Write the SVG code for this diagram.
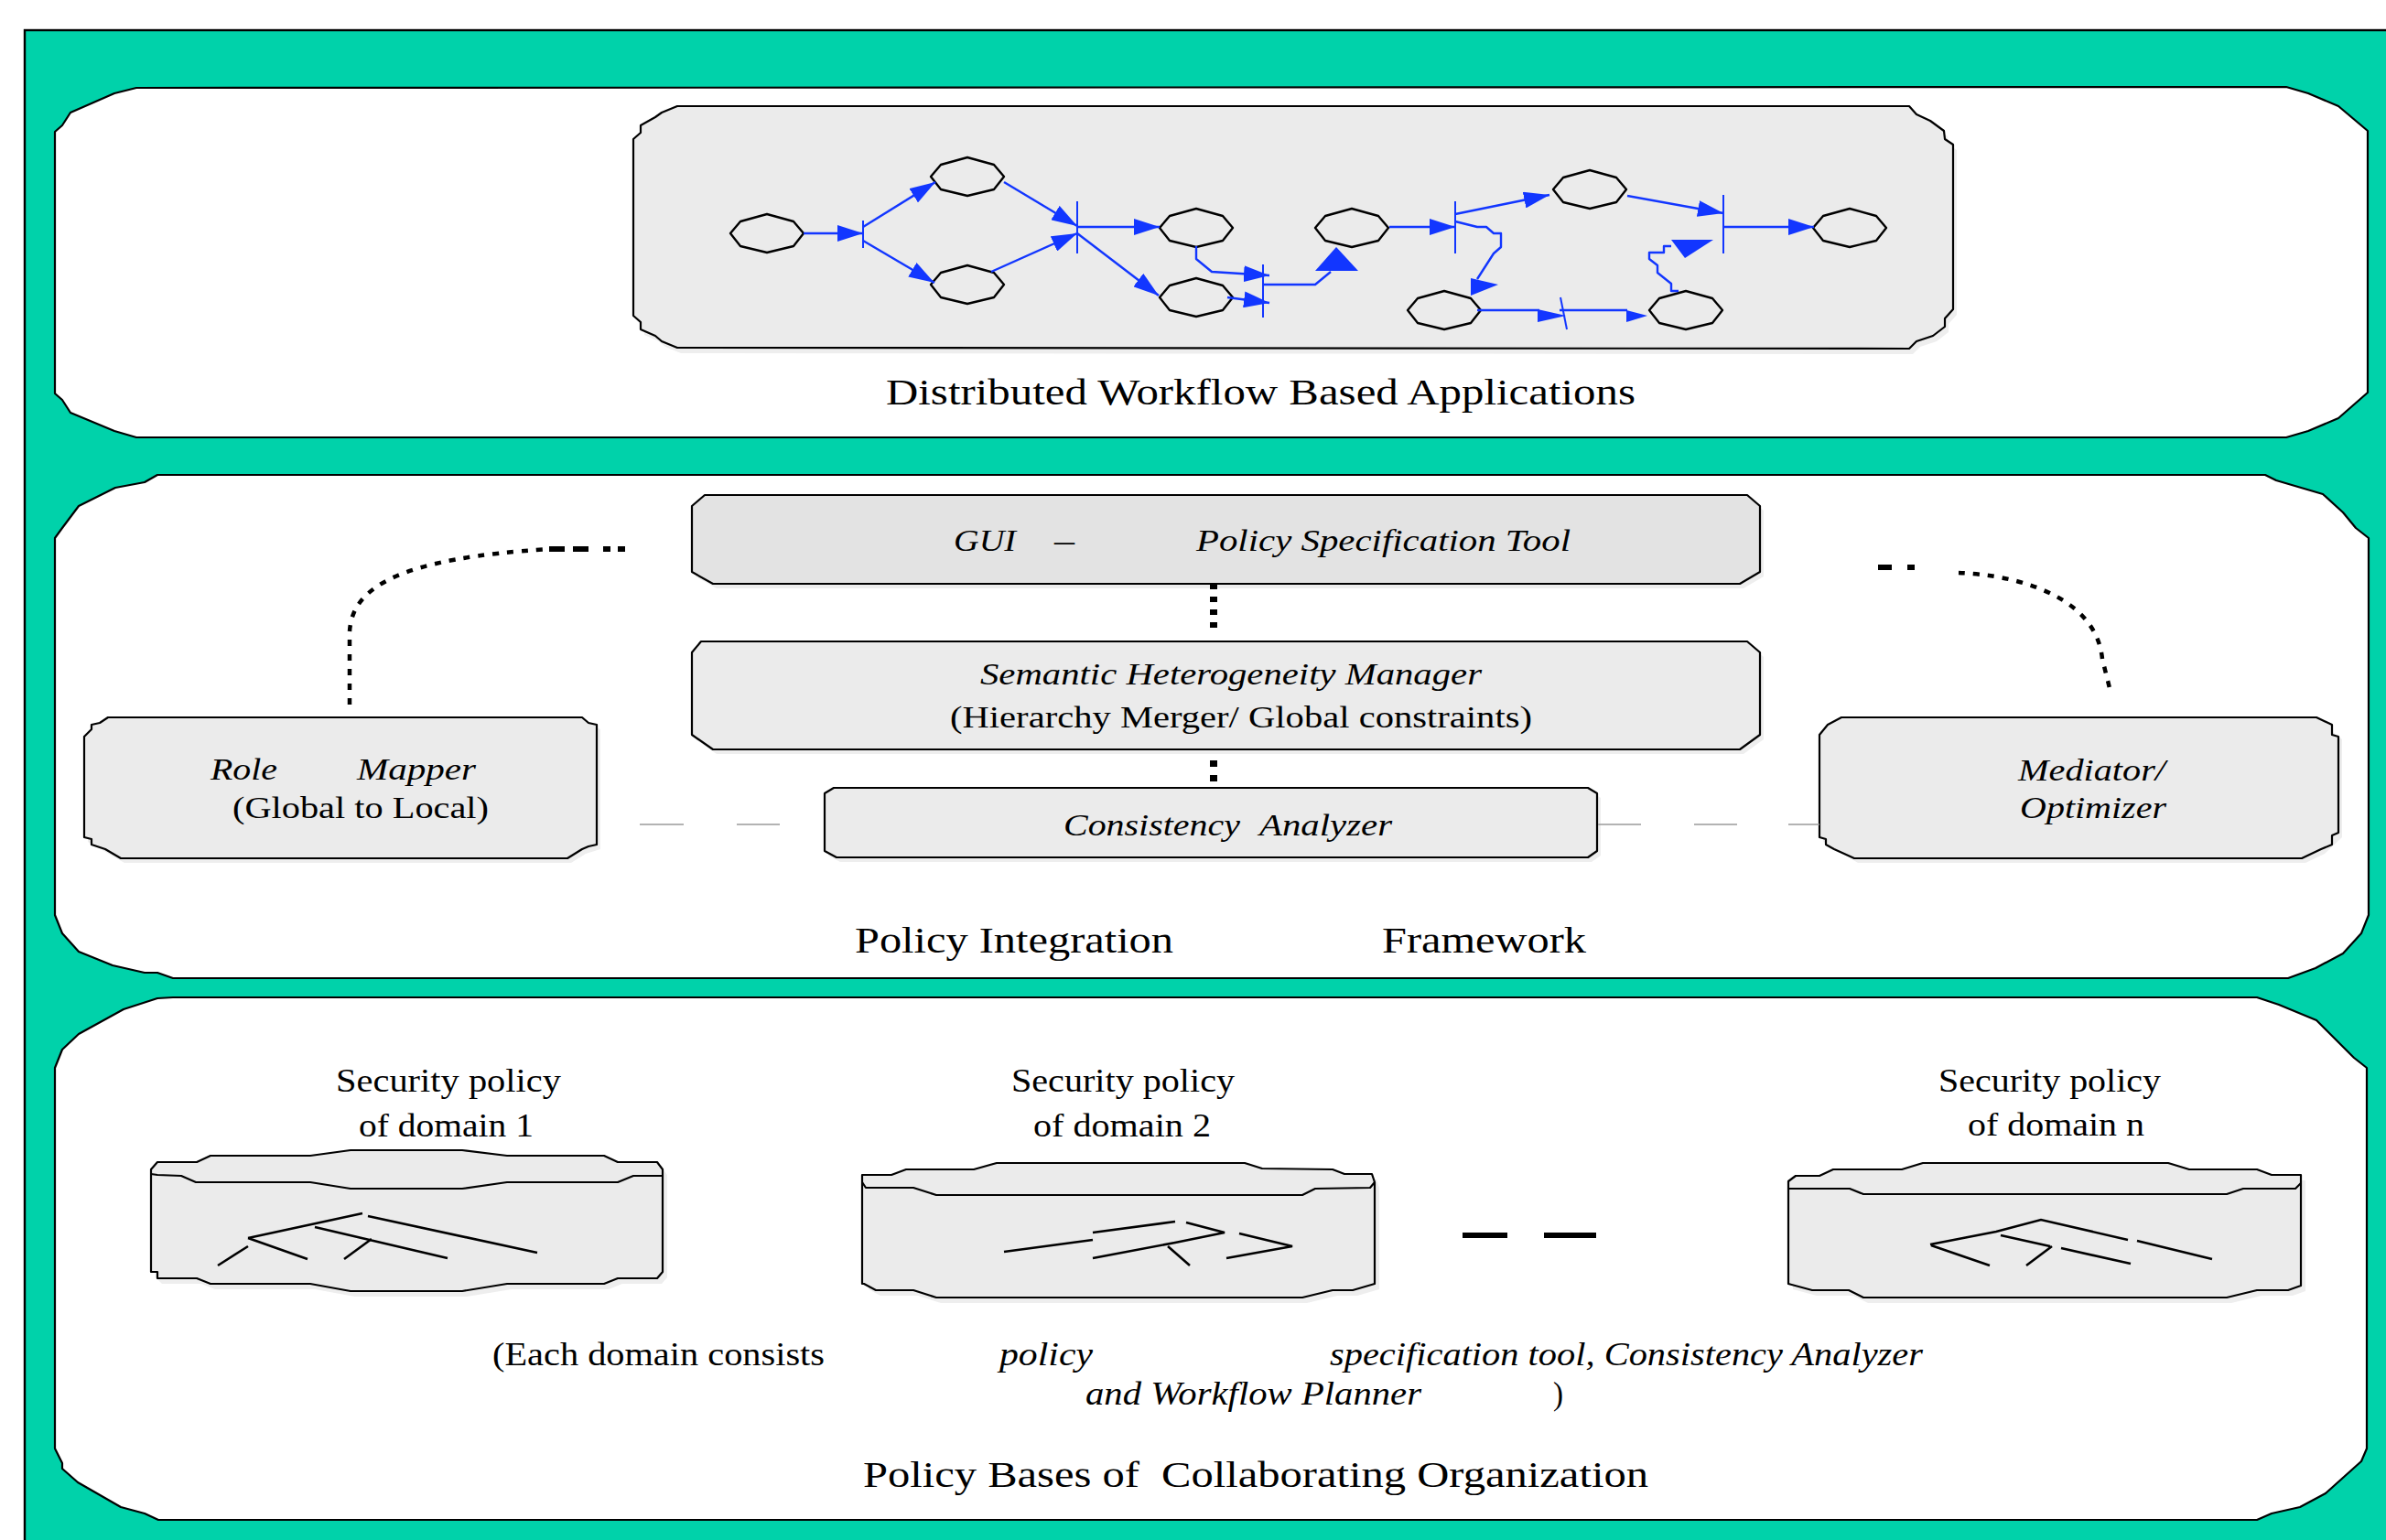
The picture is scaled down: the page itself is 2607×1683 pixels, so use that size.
<svg xmlns="http://www.w3.org/2000/svg" width="2607" height="1683" viewBox="0 0 2607 1683">
  <style>
    .panel { fill: #ffffff; stroke: #000; stroke-width: 2.2; stroke-linejoin: round; }
    .box { fill: #ebebeb; stroke: #000; stroke-width: 2.2; stroke-linejoin: round; }
    .box-dark { fill: #e3e3e3; stroke: #000; stroke-width: 2.2; stroke-linejoin: round; }
    .shadow { fill: #eeeeee; stroke: none; }
    .edge { fill: none; stroke: #000; stroke-width: 2.2; stroke-linejoin: round; }
    .t { font-family: "Liberation Serif", "Times New Roman", serif; fill: #000; }
    .it { font-style: italic; }
    .wf { fill: none; stroke: #1236ff; stroke-width: 2.4; stroke-linejoin: round; }
    .bar { fill: none; stroke: #1236ff; stroke-width: 2; }
    .head { fill: #1236ff; }
    .node { fill: none; stroke: #000; stroke-width: 2.4; stroke-linejoin: round; }
    .tree { fill: none; stroke: #000; stroke-width: 2.6; stroke-linecap: butt; }
    .link { fill: none; stroke: #000; }
    .gray { fill: none; stroke: #9a9a9a; stroke-width: 1.6; }
  </style>
  <defs>
    <marker id="arr" markerUnits="userSpaceOnUse" markerWidth="30" markerHeight="18" refX="28" refY="9" orient="auto">
      <path d="M0,0 L28,9 L0,18 z" fill="#1236ff"/>
    </marker>
    <polygon id="oct" points="-40,0 -29,-13 0,-21 29,-13 40,0 29,14 0,21 -29,14"/>
  </defs>

  <!-- background frame -->
  <rect x="27" y="33" width="2600" height="1700" fill="#00d2aa" stroke="#000" stroke-width="2.4"/>

  <!-- layer 1: applications -->
  <g id="layer-applications">
    <polygon class="panel" points="149,96 2498,95 2522,102 2555,116 2587,143 2587,429 2555,457 2522,471 2498,478 149,478 125,471 77,451 68,437 60,430 60,144 68,137 77,123 125,102"/>
    <text class="t" x="968" y="442" font-size="40" textLength="819" lengthAdjust="spacingAndGlyphs">Distributed Workflow Based Applications</text>
  </g>

  <!-- layer 2: integration framework -->
  <g id="layer-framework">
    <polygon class="panel" points="172,519 2475,519 2487,525 2538,540 2560,560 2574,577 2588,588 2588,1000 2580,1020 2560,1042 2530,1058 2500,1069 189,1069 172,1063 158,1063 123,1055 86,1040 68,1020 60,1000 60,588 68,577 86,553 126,533 158,527"/>
    <text class="t" y="1041" font-size="40"><tspan x="934" textLength="348" lengthAdjust="spacingAndGlyphs">Policy Integration</tspan><tspan x="1510" textLength="223" lengthAdjust="spacingAndGlyphs">Framework</tspan></text>
  </g>

  <!-- layer 3: policy bases -->
  <g id="layer-policy-bases">
    <polygon class="panel" points="189,1090 2466,1090 2490,1098 2531,1115 2572,1156 2586,1167 2586,1583 2580,1597 2541,1632 2513,1647 2482,1654 2466,1661 173,1661 158,1654 132,1647 85,1620 68,1605 68,1599 60,1583 60,1167 68,1147 86,1130 135,1103 172,1091"/>
    <text class="t" y="1625" font-size="40"><tspan x="943" textLength="302" lengthAdjust="spacingAndGlyphs">Policy Bases of</tspan><tspan x="1269" textLength="532" lengthAdjust="spacingAndGlyphs">Collaborating Organization</tspan></text>
    <text class="t" y="1492" font-size="35"><tspan x="538" textLength="363" lengthAdjust="spacingAndGlyphs">(Each domain consists</tspan><tspan class="it" x="1092" textLength="102" lengthAdjust="spacingAndGlyphs">policy</tspan><tspan class="it" x="1453" textLength="648" lengthAdjust="spacingAndGlyphs">specification tool, Consistency Analyzer</tspan></text>
    <text class="t" y="1535" font-size="35"><tspan class="it" x="1186" textLength="367" lengthAdjust="spacingAndGlyphs">and Workflow Planner</tspan><tspan x="1697" textLength="11" lengthAdjust="spacingAndGlyphs">)</tspan></text>
  </g>

  <!-- workflow canvas -->
  <g id="workflow">
    <polygon class="shadow" points="744,122 2090,122 2098,131 2113,138 2128,149 2129,158 2138,164 2138,344 2129,354 2129,363 2116,373 2098,379 2090,387 744,386 727,379 720,373 704,366 704,358 696,351 696,158"/>
    <polygon class="box" points="740,116 2086,116 2094,125 2109,132 2124,143 2125,152 2134,158 2134,338 2125,348 2125,357 2112,367 2094,373 2086,381 740,380 723,373 716,367 700,360 700,352 692,345 692,152 700,145 700,137 716,128 723,123"/>
  </g>

  <!-- workflow places -->
  <g id="place-a"><use href="#oct" class="node" x="838" y="255"/></g>
  <g id="place-b"><use href="#oct" class="node" x="1057" y="193"/></g>
  <g id="place-c"><use href="#oct" class="node" x="1057" y="311"/></g>
  <g id="place-d"><use href="#oct" class="node" x="1307" y="249"/></g>
  <g id="place-e"><use href="#oct" class="node" x="1307" y="325"/></g>
  <g id="place-f"><use href="#oct" class="node" x="1477" y="249"/></g>
  <g id="place-g"><use href="#oct" class="node" x="1737" y="207"/></g>
  <g id="place-h"><use href="#oct" class="node" x="2021" y="249"/></g>
  <g id="place-i"><use href="#oct" class="node" x="1578" y="339"/></g>
  <g id="place-j"><use href="#oct" class="node" x="1842" y="339"/></g>

  <!-- workflow arcs and transitions -->
  <g id="workflow-arcs">
    <line class="bar" x1="943" y1="241" x2="943" y2="271"/>
    <line class="bar" x1="1177" y1="220" x2="1177" y2="277"/>
    <line class="bar" x1="1380" y1="289" x2="1380" y2="347"/>
    <line class="bar" x1="1590" y1="220" x2="1590" y2="277"/>
    <line class="bar" x1="1883" y1="213" x2="1883" y2="277"/>
    <line class="bar" x1="1705" y1="325" x2="1712" y2="360"/>

    <line class="wf" x1="878" y1="255" x2="943" y2="255" marker-end="url(#arr)"/>
    <line class="wf" x1="943" y1="248" x2="1022" y2="199" marker-end="url(#arr)"/>
    <line class="wf" x1="943" y1="263" x2="1021" y2="309" marker-end="url(#arr)"/>
    <line class="wf" x1="1097" y1="199" x2="1177" y2="247" marker-end="url(#arr)"/>
    <line class="wf" x1="1083" y1="297" x2="1177" y2="255" marker-end="url(#arr)"/>
    <line class="wf" x1="1177" y1="248" x2="1267" y2="248" marker-end="url(#arr)"/>
    <line class="wf" x1="1177" y1="255" x2="1266" y2="323" marker-end="url(#arr)"/>
    <polyline class="wf" points="1307,269 1307,283 1324,297 1387,301" marker-end="url(#arr)"/>
    <line class="wf" x1="1341" y1="325" x2="1387" y2="331" marker-end="url(#arr)"/>
    <polyline class="wf" points="1380,311 1437,311 1454,297"/>
    <polygon class="head" points="1437,296 1460,270 1484,296"/>
    <line class="wf" x1="1518" y1="248" x2="1590" y2="248" marker-end="url(#arr)"/>
    <line class="wf" x1="1590" y1="234" x2="1693" y2="213" marker-end="url(#arr)"/>
    <line class="wf" x1="1778" y1="214" x2="1883" y2="233" marker-end="url(#arr)"/>
    <line class="wf" x1="1883" y1="248" x2="1982" y2="248" marker-end="url(#arr)"/>
    <polyline class="wf" points="1590,242 1614,248 1624,248 1632,255 1640,255 1640,270 1632,277 1614,305"/>
    <polygon class="head" points="1607,304 1637,311 1607,323"/>
    <line class="wf" x1="1614" y1="339" x2="1682" y2="339"/>
    <polygon class="head" points="1680,338 1711,345 1680,352"/>
    <line class="wf" x1="1704" y1="339" x2="1778" y2="339"/>
    <polygon class="head" points="1777,339 1800,345 1777,352"/>
    <polyline class="wf" points="1834,318 1826,318 1826,310 1811,298 1811,290 1802,283 1802,276 1818,276 1818,269 1826,269"/>
    <polygon class="head" points="1826,262 1872,262 1841,282"/>
  </g>

  <!-- framework components -->
  <g id="gui-tool">
    <polygon class="shadow" points="774,546 1913,546 1927,558 1927,630 1905,643 783,643 760,630"/>
    <polygon class="box-dark" points="770,541 1909,541 1923,553 1923,625 1901,638 779,638 756,625 756,553"/>
    <text class="t it" y="602" font-size="34"><tspan x="1042" textLength="68" lengthAdjust="spacingAndGlyphs">GUI</tspan><tspan x="1152" textLength="22" lengthAdjust="spacingAndGlyphs">–</tspan><tspan x="1307" textLength="409" lengthAdjust="spacingAndGlyphs">Policy Specification Tool</tspan></text>
  </g>

  <g id="heterogeneity-manager">
    <polygon class="shadow" points="770,706 1913,706 1927,718 1927,808 1905,824 783,824 760,808"/>
    <polygon class="box" points="766,701 1909,701 1923,713 1923,803 1901,819 779,819 756,803 756,713"/>
    <text class="t it" x="1071" y="748" font-size="34" textLength="548" lengthAdjust="spacingAndGlyphs">Semantic Heterogeneity Manager</text>
    <text class="t" x="1038" y="795" font-size="34" textLength="636" lengthAdjust="spacingAndGlyphs">(Hierarchy Merger/ Global constraints)</text>
  </g>

  <g id="consistency-analyzer">
    <polygon class="shadow" points="915,866 1739,866 1749,872 1749,935 1739,942 918,942 905,935"/>
    <polygon class="box" points="911,861 1735,861 1745,867 1745,930 1735,937 914,937 901,930 901,867"/>
    <text class="t it" y="913" font-size="34"><tspan x="1162" textLength="193" lengthAdjust="spacingAndGlyphs">Consistency</tspan><tspan x="1376" textLength="145" lengthAdjust="spacingAndGlyphs">Analyzer</tspan></text>
  </g>

  <g id="role-mapper">
    <polygon class="shadow" points="122,789 640,789 656,797 656,928 640,933 624,943 136,943 96,920 96,810"/>
    <polygon class="box" points="118,784 636,784 643,790 652,792 652,923 643,925 636,928 620,938 132,938 115,928 100,923 100,917 92,915 92,805 100,797 100,792 109,790"/>
    <text class="t it" y="852" font-size="34"><tspan x="230" textLength="73" lengthAdjust="spacingAndGlyphs">Role</tspan><tspan x="390" textLength="130" lengthAdjust="spacingAndGlyphs">Mapper</tspan></text>
    <text class="t" x="254" y="894" font-size="34" textLength="280" lengthAdjust="spacingAndGlyphs">(Global to Local)</text>
  </g>

  <g id="mediator">
    <polygon class="shadow" points="2016,789 2535,789 2559,808 2559,915 2540,933 2519,943 2030,943 1992,920 1992,808"/>
    <polygon class="box" points="2012,784 2531,784 2548,792 2548,803 2555,805 2555,910 2548,913 2548,923 2536,928 2515,938 2026,938 2004,928 1995,923 1995,917 1988,915 1988,803 1997,792"/>
    <text class="t it" x="2205" y="853" font-size="34" textLength="161" lengthAdjust="spacingAndGlyphs">Mediator/</text>
    <text class="t it" x="2207" y="894" font-size="34" textLength="160" lengthAdjust="spacingAndGlyphs">Optimizer</text>
  </g>

  <!-- policy base drums -->
  <g id="domain-1">
    <text class="t" x="367" y="1193" font-size="35" textLength="246" lengthAdjust="spacingAndGlyphs">Security policy</text>
    <text class="t" x="392" y="1242" font-size="35" textLength="191" lengthAdjust="spacingAndGlyphs">of domain 1</text>
    <polygon class="shadow" points="388,1263 510,1263 559,1269 665,1269 680,1276 723,1276 729,1284 729,1396 723,1403 680,1403 665,1409 559,1409 510,1417 388,1417 344,1409 235,1409 220,1403 177,1403 170,1396 170,1284"/>
    <polygon class="box" points="383,1257 505,1257 554,1263 660,1263 675,1270 718,1270 724,1278 724,1390 718,1397 675,1397 660,1403 554,1403 505,1411 383,1411 339,1403 230,1403 215,1397 172,1397 172,1390 165,1390 165,1278 172,1270 215,1270 230,1263 339,1263"/>
    <polyline class="edge" points="165,1283 172,1284 198,1285 214,1292 339,1292 383,1299 505,1299 554,1292 675,1292 692,1285 724,1285"/>
    <path class="tree" d="M238,1383 L271,1362 M271,1353 L396,1326 M271,1353 L336,1376 M344,1341 L489,1375 M406,1354 L376,1376 M402,1329 L587,1369"/>
  </g>

  <g id="domain-2">
    <text class="t" x="1105" y="1193" font-size="35" textLength="244" lengthAdjust="spacingAndGlyphs">Security policy</text>
    <text class="t" x="1129" y="1242" font-size="35" textLength="194" lengthAdjust="spacingAndGlyphs">of domain 2</text>
    <polygon class="shadow" points="1094,1277 1365,1277 1384,1283 1461,1284 1474,1289 1504,1289 1507,1298 1507,1409 1483,1416 1461,1416 1428,1424 1028,1424 1003,1416 962,1416 949,1409 947,1290"/>
    <polygon class="box" points="1089,1271 1360,1271 1379,1277 1456,1278 1469,1283 1499,1283 1502,1292 1502,1403 1478,1410 1456,1410 1423,1418 1023,1418 998,1410 957,1410 944,1403 942,1403 942,1284 974,1284 990,1278 1064,1278"/>
    <polyline class="edge" points="942,1292 946,1298 998,1298 1023,1306 1423,1306 1437,1299 1497,1298 1502,1292"/>
    <path class="tree" d="M1097,1368 L1194,1355 M1194,1347 L1284,1335 M1296,1336 L1338,1347 L1284,1358 L1194,1375 M1276,1362 L1300,1383 M1354,1348 L1412,1362 L1340,1375"/>
  </g>

  <g id="domain-n">
    <text class="t" x="2118" y="1193" font-size="35" textLength="243" lengthAdjust="spacingAndGlyphs">Security policy</text>
    <text class="t" x="2150" y="1241" font-size="35" textLength="193" lengthAdjust="spacingAndGlyphs">of domain n</text>
    <polygon class="shadow" points="2106,1277 2374,1277 2397,1284 2471,1284 2487,1290 2519,1290 2519,1411 2505,1416 2471,1416 2438,1424 2041,1424 2025,1416 1985,1416 1959,1409 1959,1297"/>
    <polygon class="box" points="2101,1271 2369,1271 2392,1278 2466,1278 2482,1284 2514,1284 2514,1405 2500,1410 2466,1410 2433,1418 2036,1418 2020,1410 1980,1410 1954,1403 1954,1291 1962,1285 1988,1285 2003,1278 2078,1278"/>
    <polyline class="edge" points="1954,1299 2021,1299 2036,1305 2433,1305 2451,1299 2508,1299 2514,1293"/>
    <path class="tree" d="M2109,1360 L2181,1346 L2230,1333 L2325,1355 M2335,1356 L2417,1376 M2110,1361 L2174,1383 M2186,1350 L2240,1362 M2252,1364 L2328,1381 M2242,1362 L2214,1383"/>
  </g>

  <!-- framework connectors -->
  <g id="connectors">
    <line class="link" x1="1326" y1="638" x2="1326" y2="694" stroke-width="8" stroke-dasharray="6 8"/>
    <line class="link" x1="1326" y1="831" x2="1326" y2="854" stroke-width="8" stroke-dasharray="7 9"/>
    <path class="gray" d="M699,901 H747 M805,901 H852 M1746,901 H1793 M1851,901 H1898 M1954,901 H1988"/>
    <path class="link" d="M382,770 L382,690 C385,640 440,610 600,600" stroke-width="4.5" stroke-dasharray="7 9"/>
    <path class="link" d="M600,600 H617 M626,600 H643 M659,600 H667 M675,600 H683" stroke-width="6"/>
    <path class="link" d="M2052,620 H2067 M2084,620 H2092" stroke-width="6"/>
    <path class="link" d="M2140,626 C2200,628 2290,650 2297,720 L2306,756" stroke-width="4.5" stroke-dasharray="7 9"/>
    <path class="link" d="M1598,1350 H1647 M1687,1350 H1744" stroke-width="6"/>
  </g>
</svg>
